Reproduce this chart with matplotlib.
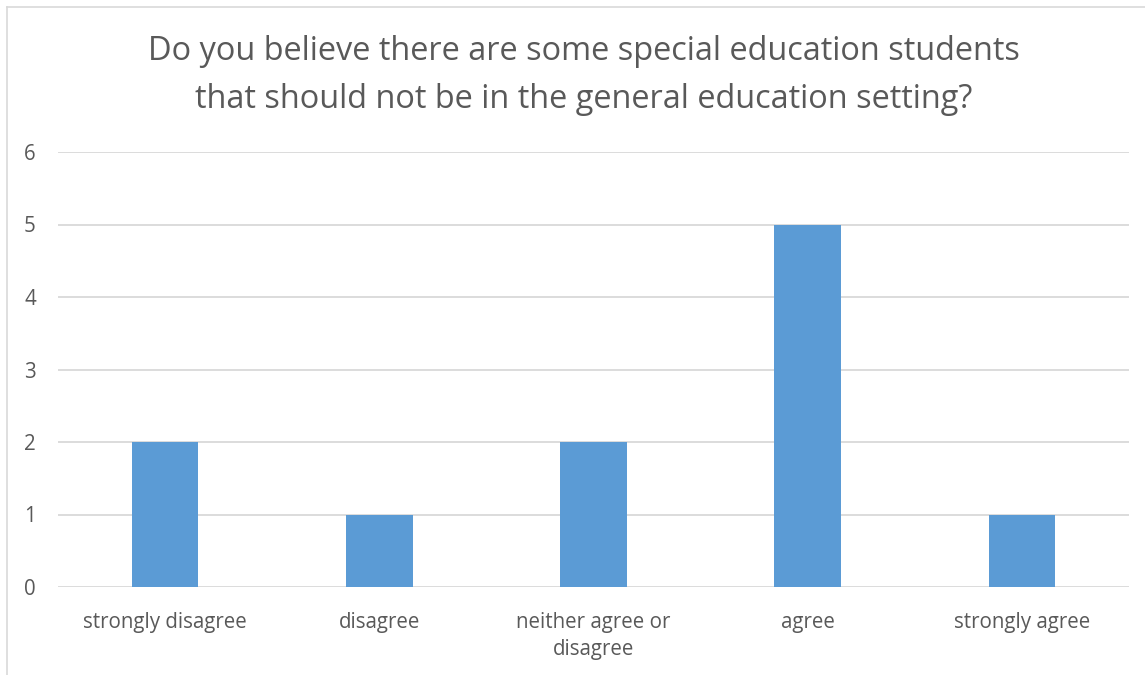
import matplotlib.pyplot as plt
from matplotlib.lines import Line2D

categories = ['strongly disagree', 'disagree', 'neither agree or\ndisagree', 'agree', 'strongly agree']
counts = [2, 1, 2, 5, 1]
yticks = [0, 1, 2, 3, 4, 5, 6]

plt.rcParams['font.family'] = ['Open Sans', 'DejaVu Sans']

fig = plt.figure(figsize=(11.45, 6.75), dpi=100)
ax = fig.add_axes([58 / 1145, 1 - 587 / 675, (1129 - 58) / 1145, (587 - 152) / 675])

x = range(len(categories))
ax.bar(x, counts, width=0.31, color='#5B9BD5', zorder=3)

ax.set_xlim(-0.5, len(categories) - 0.5)
ax.set_ylim(0, 6)
ax.set_yticks(yticks)
ax.set_xticks(list(x))
ax.set_xticklabels(categories, fontsize=14.8, color='#595959', linespacing=1.35)
ax.tick_params(axis='y', labelsize=14.8, labelcolor='#595959', length=0, pad=16)
ax.tick_params(axis='x', length=0, pad=18)
ax.grid(axis='y', color='#D9D9D9', linewidth=1.3, zorder=0)
for s in ax.spines.values():
    s.set_visible(False)

fig.text(584 / 1145, 1 - 52 / 675, 'Do you believe there are some special education students',
         ha='center', va='center', fontsize=23.4, color='#595959')
fig.text(584 / 1145, 1 - 99 / 675, 'that should not be in the general education setting?',
         ha='center', va='center', fontsize=23.4, color='#595959')

# chart border (left and top visible)
fig.add_artist(Line2D([7 / 1145, 7 / 1145], [0, 1 - 7 / 675], color='#D9D9D9', linewidth=1.2))
fig.add_artist(Line2D([7 / 1145, 1], [1 - 7 / 675, 1 - 7 / 675], color='#D9D9D9', linewidth=1.2))

fig.savefig('out.png', dpi=100)
